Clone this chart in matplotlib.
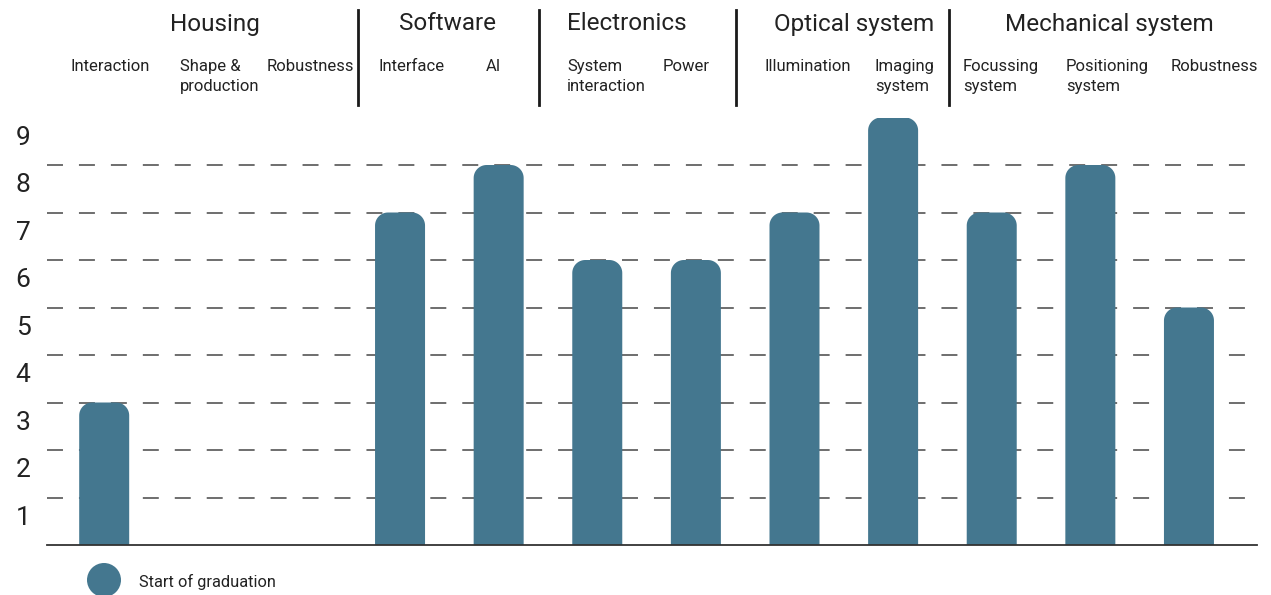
import numpy as np
import matplotlib.pyplot as plt
import matplotlib as mpl
from matplotlib.patches import PathPatch, Circle
from matplotlib.path import Path
from matplotlib.transforms import IdentityTransform

# data
groups = ["Housing", "Software", "Electronics", "Optical system", "Mechanical system"]
sub_labels = ["Interaction", "Shape &\nproduction", "Robustness",
              "Interface", "AI",
              "System\ninteraction", "Power",
              "Illumination", "Imaging\nsystem",
              "Focussing\nsystem", "Positioning\nsystem", "Robustness"]
values = [3, 0, 0, 7, 8, 6, 6, 7, 9, 7, 8, 5]
legend_label = "Start of graduation"

bar_color = "#44778f"
text_color = "#222222"

mpl.rcParams['font.family'] = ['Roboto', 'DejaVu Sans']
mpl.rcParams['lines.scale_dashes'] = False

W, H = 1271, 595
fig = plt.figure(figsize=(W / 100, H / 100), dpi=100)

# axes box in pixels (left, top, right, bottom)
ax_l, ax_t, ax_r, ax_b = 47, 117.5, 1257, 545
ax = fig.add_axes([ax_l / W, 1 - ax_b / H, (ax_r - ax_l) / W, (ax_b - ax_t) / H])
xmin, xmax = -0.58, 11.69
ymax = 9
ax.set_xlim(xmin, xmax)
ax.set_ylim(0, ymax)
for s in ["top", "right", "left"]:
    ax.spines[s].set_visible(False)
ax.spines["bottom"].set_color("#333333")
ax.spines["bottom"].set_linewidth(1.3)
ax.set_xticks([])
ax.set_yticks([v - 0.37 for v in range(1, 10)], [str(v) for v in range(1, 10)])
ax.tick_params(axis="y", length=0, pad=12, labelsize=19, labelcolor=text_color)

# dashed grid behind the bars
for v in range(1, 9):
    ax.axhline(v, color="#555555", lw=1.2, dashes=(11.5, 11.5), zorder=1)

# rounded-top bars, corner radius given in pixels
px_x = (ax_r - ax_l) / (xmax - xmin)
px_y = (ax_b - ax_t) / ymax
bw = 50 / px_x
rx = 13 / px_x
ry = 13 / px_y
t = np.linspace(0, np.pi / 2, 16)


def bar_path(xc, h):
    x0, x1 = xc - bw / 2, xc + bw / 2
    pts = [(x0, 0), (x0, h - ry)]
    pts += [(x0 + rx - rx * np.cos(a), h - ry + ry * np.sin(a)) for a in t]
    pts += [(x1 - rx + rx * np.sin(a), h - ry + ry * np.cos(a)) for a in t]
    pts += [(x1, 0), (x0, 0)]
    codes = [Path.MOVETO] + [Path.LINETO] * (len(pts) - 2) + [Path.CLOSEPOLY]
    return Path(pts, codes)


for i, v in enumerate(values):
    if v <= 0:
        continue
    ax.add_patch(PathPatch(bar_path(i, v), fc=bar_color, ec="none", zorder=2))


# header: group titles, sub labels, separators (pixel positions)
def fx(px):
    return px / W


def fy(py):
    return 1 - py / H


title_x = [215, 447, 627, 854, 1109]
for g, x in zip(groups, title_x):
    fig.text(fx(x), fy(24), g, ha="center", va="center", fontsize=17.5, color=text_color)

sub_x = [71, 180, 267, 378, 486, 567, 663, 764, 875, 963, 1066, 1171]
for lab, x in zip(sub_labels, sub_x):
    fig.text(fx(x), fy(59), lab, ha="left", va="top", fontsize=12,
             color=text_color, linespacing=1.42)

for x in [358, 539, 736, 949]:
    fig.add_artist(plt.Line2D([fx(x), fx(x)], [fy(10), fy(105)], color="#1a1a1a", lw=2))

# legend
dot = Circle((104, H - 580), 17, transform=IdentityTransform(), fc=bar_color, ec="none")
fig.add_artist(dot)
fig.text(fx(139), fy(582), legend_label, ha="left", va="center", fontsize=11.8, color=text_color)

fig.savefig("out.png", dpi=100)
